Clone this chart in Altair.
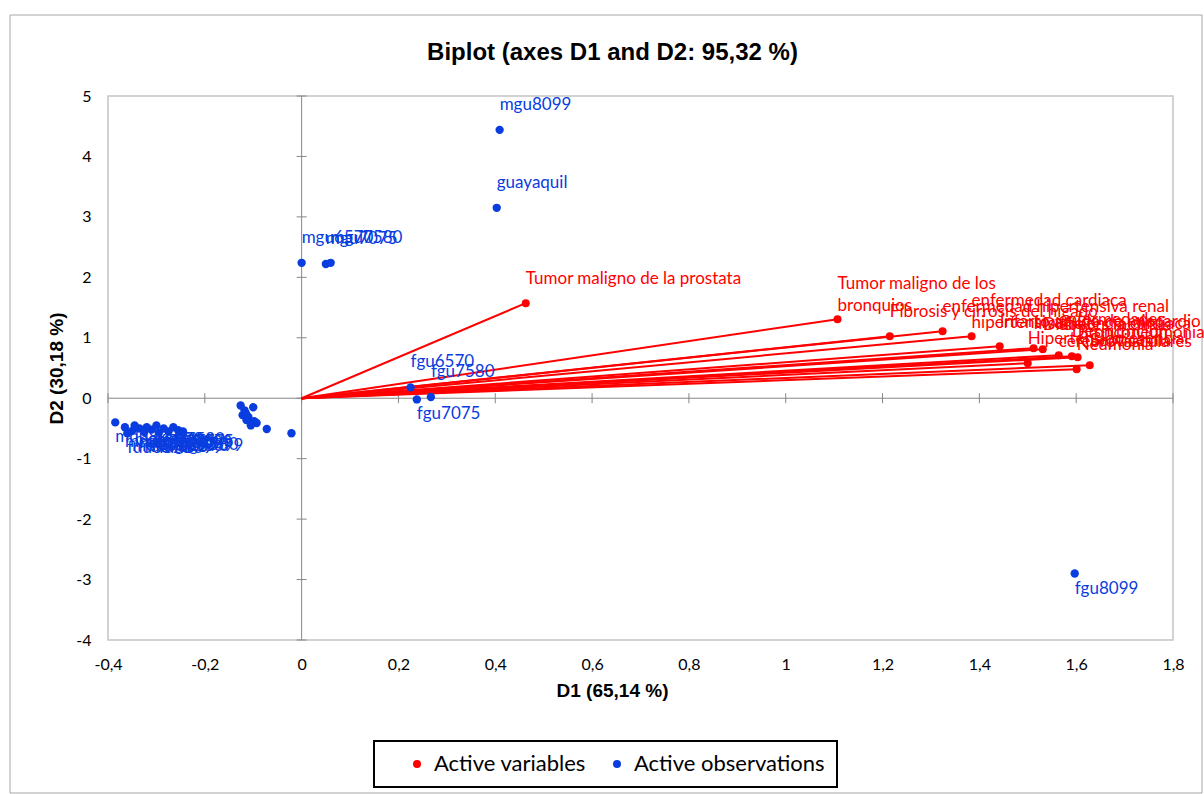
import altair as alt
import pandas as pd

# ---------------- data ----------------
var_names = [
    "Tumor maligno de la prostata",
    "Tumor maligno de los\nbronquios",
    "Fibrosis y cirrosis del higado",
    "enfermedad hipertensiva renal",
    "enfermedad cardiaca\nhipertensiva",
    "Infarto agudo de miocardio",
    "Insuficiencia cardiaca",
    "Diabetes mellitus",
    "enfermedades\ncerebrovasculares",
    "Desnutricion",
    "Bronconeumonia",
    "Septicemia",
    "Neumonia",
    "Hipertension esencial",
]
var_d1 = [0.463, 1.107, 1.215, 1.324, 1.384, 1.442, 1.512, 1.531, 1.564, 1.591, 1.603, 1.628, 1.601, 1.500]
var_d2 = [1.573, 1.308, 1.026, 1.109, 1.026, 0.861, 0.828, 0.811, 0.712, 0.695, 0.679, 0.546, 0.480, 0.580]

obs_names = [
    "mgu8099", "guayaquil", "mgu6570", "mgu7075", "mgu7580",
    "fgu6570", "fgu7580", "fgu7075", "fgu8099",
    "mdu6570", "mdu7075", "mdu7580", "mdu8099",
    "fdu6570", "fdu7075", "fdu7580", "fdu8099",
    "mgr6570", "mgr7075", "mgr7580", "mgr8099",
    "fgr6570", "fgr7075", "fgr7580", "fgr8099",
    "", "", "", "", "", "", "", "", "", "", "", "", "",
]
obs_d1 = [
    0.409, 0.403, 0.000, 0.050, 0.060,
    0.225, 0.267, 0.238, 1.597,
    -0.365, -0.350, -0.335, -0.385,
    -0.360, -0.325, -0.310, -0.295,
    -0.345, -0.320, -0.300, -0.285,
    -0.275, -0.265, -0.255, -0.245,
    -0.126, -0.118, -0.100, -0.122, -0.114, -0.103, -0.093, -0.072, -0.021,
    -0.110, -0.115, -0.105, -0.098,
]
obs_d2 = [
    4.44, 3.15, 2.24, 2.22, 2.24,
    0.18, 0.02, -0.02, -2.90,
    -0.48, -0.54, -0.50, -0.40,
    -0.58, -0.56, -0.52, -0.57,
    -0.45, -0.48, -0.45, -0.50,
    -0.55, -0.48, -0.53, -0.55,
    -0.12, -0.20, -0.15, -0.28, -0.36, -0.40, -0.41, -0.51, -0.58,
    -0.31, -0.25, -0.45, -0.38,
]

x_ticks = [-0.4, -0.2, 0, 0.2, 0.4, 0.6, 0.8, 1, 1.2, 1.4, 1.6, 1.8]
y_ticks = [-4, -3, -2, -1, 0, 1, 2, 3, 4, 5]

legend_labels = ["Active variables", "Active observations"]

# ---------------- styles ----------------
RED = "#ff0000"
BLUE = "#0a3de0"
GREY = "#868686"
LABEL_FONT = "Lato"
TITLE_FONT = "Liberation Sans"
LBL_SIZE = 17

variables = pd.DataFrame({"name": var_names, "D1": var_d1, "D2": var_d2,
                          "type": legend_labels[0]})
observations = pd.DataFrame({"name": obs_names, "D1": obs_d1, "D2": obs_d2,
                             "type": legend_labels[1]})
xt = pd.DataFrame({"v": x_ticks})
yt = pd.DataFrame({"v": y_ticks})
one = pd.DataFrame({"a": [0]})

xscale = alt.Scale(domain=[-0.4, 1.8], nice=False, zero=False)
yscale = alt.Scale(domain=[-4, 5], nice=False, zero=False)

lbl_expr = "replace(toString(datum.value), '.', ',')"

x_axis = alt.Axis(values=x_ticks, labelExpr=lbl_expr, grid=False, domain=False, ticks=False,
                  labelFont=LABEL_FONT, labelFontSize=16, labelColor="black", labelPadding=16,
                  labelFlush=False, labelOverlap=False,
                  title="D1 (65,14 %)", titleFont=TITLE_FONT, titleFontSize=19,
                  titleFontWeight="bold", titleColor="black", titleX=504, titlePadding=9)
y_axis = alt.Axis(values=y_ticks, labelExpr=lbl_expr, grid=False, domain=False, ticks=False,
                  labelFont=LABEL_FONT, labelFontSize=16, labelColor="black", labelPadding=17,
                  labelFlush=False, labelOverlap=False,
                  title="D2 (30,18 %)", titleFont=TITLE_FONT, titleFontSize=19,
                  titleFontWeight="bold", titleColor="black", titlePadding=9)


def XF(field):
    return alt.X(field, type="quantitative", scale=xscale, axis=x_axis)


def YF(field):
    return alt.Y(field, type="quantitative", scale=yscale, axis=y_axis)


# outer chart frame (decoration)
frame_top = alt.Chart(one).mark_rule(color="#a6a6a6").encode(
    x=alt.value(-98), x2=alt.value(1094), y=alt.value(-81))
frame_bot = alt.Chart(one).mark_rule(color="#a6a6a6").encode(
    x=alt.value(-98), x2=alt.value(1094), y=alt.value(697))
frame_left = alt.Chart(one).mark_rule(color="#a6a6a6").encode(
    x=alt.value(-98), y=alt.value(-81), y2=alt.value(697))
frame_right = alt.Chart(one).mark_rule(color="#a6a6a6").encode(
    x=alt.value(1094), y=alt.value(-81), y2=alt.value(697))

vzero = alt.Chart(one).transform_calculate(zero="0").mark_rule(
    color=GREY, strokeWidth=1).encode(x=XF("zero"))
hzero = alt.Chart(one).transform_calculate(zero="0").mark_rule(
    color=GREY, strokeWidth=1).encode(y=YF("zero"))

vticks = alt.Chart(yt).transform_calculate(zero="0").mark_point(
    shape="M-1,0L1,0", size=100, filled=False, color=GREY, strokeWidth=1, opacity=1).encode(
    x=XF("zero"), y=YF("v"))
hticks = alt.Chart(xt).transform_calculate(zero="0").mark_point(
    shape="M0,-1L0,1", size=100, filled=False, color=GREY, strokeWidth=1, opacity=1).encode(
    x=XF("v"), y=YF("zero"))

color = alt.Color("type:N", scale=alt.Scale(domain=legend_labels, range=[RED, BLUE]),
                  legend=alt.Legend(title=None, orient="none", legendX=266, legendY=645,
                                    direction="horizontal", symbolType="circle", symbolSize=64,
                                    symbolStrokeWidth=0, labelLimit=400,
                                    labelFont=LABEL_FONT, labelFontSize=22, labelColor="black",
                                    strokeColor="black", fillColor="white", padding=12,
                                    symbolOffset=20, labelOffset=6, columnPadding=0))

vectors = alt.Chart(variables).transform_calculate(zero="0").mark_rule(
    color=RED, strokeWidth=2).encode(
    x=XF("zero"), y=YF("zero"),
    x2=alt.X2("D1:Q"), y2=alt.Y2("D2:Q"))

var_pts = alt.Chart(variables).mark_circle(size=64, opacity=1).encode(
    x=XF("D1"), y=YF("D2"), color=color)
obs_pts = alt.Chart(observations).mark_circle(size=70, opacity=1).encode(
    x=XF("D1"), y=YF("D2"), color=color)

var_txt1 = alt.Chart(variables).transform_filter(
    "indexof(datum.name, '\\n') < 0").mark_text(
    align="left", baseline="middle", dy=-24, font=LABEL_FONT, fontSize=LBL_SIZE,
    color=RED).encode(x=XF("D1"), y=YF("D2"), text="name:N")
var_txt2 = alt.Chart(variables).transform_filter(
    "indexof(datum.name, '\\n') >= 0").mark_text(
    align="left", baseline="middle", dy=-35, font=LABEL_FONT, fontSize=LBL_SIZE,
    color=RED, lineBreak="\n", lineHeight=22).encode(x=XF("D1"), y=YF("D2"), text="name:N")

obs_up = alt.Chart(observations).transform_filter(
    "datum.name != '' && datum.D2 >= 0").mark_text(
    align="left", baseline="middle", dy=-25, font=LABEL_FONT, fontSize=LBL_SIZE,
    color=BLUE).encode(x=XF("D1"), y=YF("D2"), text="name:N")
obs_down = alt.Chart(observations).transform_filter(
    "datum.name != '' && datum.D2 < 0").mark_text(
    align="left", baseline="middle", dy=15, font=LABEL_FONT, fontSize=LBL_SIZE,
    color=BLUE).encode(x=XF("D1"), y=YF("D2"), text="name:N")

chart = alt.layer(
    frame_top, frame_bot, frame_left, frame_right,
    vzero, hzero, vticks, hticks, vectors, obs_pts, var_pts,
    var_txt1, var_txt2, obs_up, obs_down
).properties(
    width=1065, height=544,
    title=alt.TitleParams(text="Biplot (axes D1 and D2: 95,32 %)", font=TITLE_FONT,
                          fontSize=24, fontWeight="bold", color="black", anchor="middle",
                          dx=-28, dy=50, offset=0, frame="group"),
    padding={"left": 108, "top": 96, "right": 31, "bottom": 154},
    autosize=alt.AutoSizeParams(type="none"),
).configure_view(stroke="#c4c4c4", strokeWidth=1.5).configure_legend(strokeWidth=2)

chart.save("out.html", embed_options={"renderer": "svg", "actions": False})
